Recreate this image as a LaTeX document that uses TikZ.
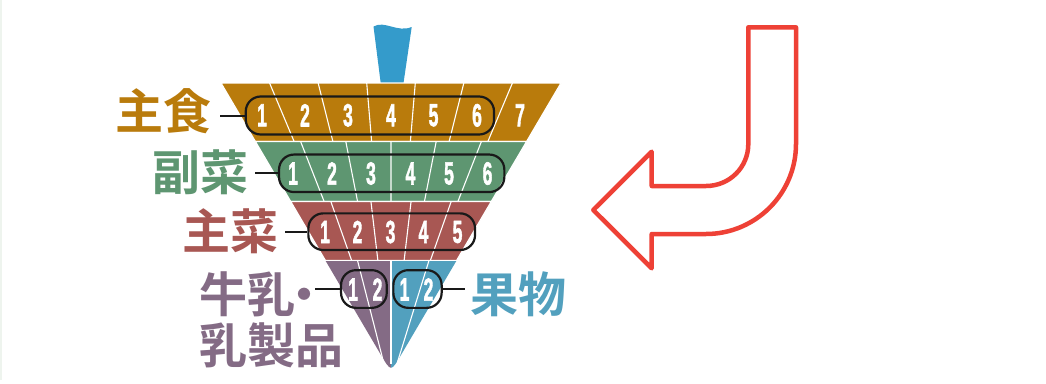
\documentclass[tikz,border=0pt]{standalone}
\usepackage{fontspec}
\usepackage{graphicx}
\newfontfamily\jpfont{Noto Sans CJK JP}[BoldFont={* Bold}]
\newfontfamily\numfont{Liberation Sans}[BoldFeatures={FakeBold=2}]
\newcommand\nm[1]{\scalebox{0.55}[1]{#1}}
\definecolor{cgold}{HTML}{B97B0C}
\definecolor{cgreen}{HTML}{5E9671}
\definecolor{cred}{HTML}{A85753}
\definecolor{cpurple}{HTML}{846B85}
\definecolor{cblue}{HTML}{52A0BE}
\definecolor{cstick}{HTML}{349BCB}
\definecolor{carrow}{HTML}{EE4136}
\definecolor{cedge}{HTML}{EEF4EE}
\tikzset{
  band/.style={draw=white, line width=1.2pt},
  divline/.style={draw=white, line width=1.1pt},
  num/.style={text=white, font=\numfont\bfseries\fontsize{32}{32}\selectfont, inner sep=0pt},
  oval/.style={draw=black!90, line width=2.2pt, rounded corners=15pt, inner sep=0pt},
  conn/.style={draw=black!90, line width=2pt},
  lbl/.style={font=\jpfont\bfseries\fontsize{48}{48}\selectfont, inner sep=0pt},
}
\begin{document}
\begin{tikzpicture}[x=1pt, y=-1pt]
\useasboundingbox (0,0) rectangle (1046,383);
\fill[white] (0,0) rectangle (1046,383);
\draw[cedge, line width=1.5pt] (1,0) -- (1,380);

% stick
\fill[cstick] (380.7,83) -- (373.5,26.5) .. controls (385,20) and (397,33) .. (411.7,27) -- (403.5,83) -- cycle;

% bands
\path[band, fill=cgold] (221,83) -- (561,83) -- (526.6,141.5) -- (255.4,141.5) -- cycle;
\path[band, fill=cgreen] (255.4,141.5) -- (526.6,141.5) -- (491.3,201.5) -- (290.7,201.5) -- cycle;
\path[band, fill=cred] (290.7,201.5) -- (491.3,201.5) -- (456.6,260.5) -- (325.4,260.5) -- cycle;
\begin{scope}
\clip (325.4,260.5) -- (381,355) .. controls (391,372) .. (401,355) -- (456.6,260.5) -- cycle;
\fill[cpurple] (320,260.5) rectangle (391,380);
\fill[cblue] (391,260.5) rectangle (462,380);
\end{scope}
\draw[white, line width=1.2pt] (325.4,260.5) -- (456.6,260.5);

% dividers
\foreach \i in {1,...,6} \draw[divline] ({221+\i*340/7},83) -- ({255.4+\i*271.2/7},141.5);
\foreach \i in {1,...,5} \draw[divline] ({255.4+\i*271.2/6},141.5) -- ({290.7+\i*200.6/6},201.5);
\foreach \i in {1,...,4} \draw[divline] ({290.7+\i*200.6/5},201.5) -- ({325.4+\i*131.2/5},260.5);
\draw[divline] (357.5,260.5) -- (383.5,362);
\draw[divline] (391,260.5) -- (391,364);
\draw[divline] (429,260.5) -- (397.5,362);

% numbers
\foreach \x/\t [count=\k] in {262/1,305/2,348/3,391/4,433.5/5,477/6,520/7}
  \node[num] (na\k) at (\x,115.3) {\nm{\t}};
\foreach \x/\t [count=\k] in {293/1,332/2,371/3,410.5/4,449/5,487.5/6}
  \node[num] (nb\k) at (\x,173.5) {\nm{\t}};
\foreach \x/\t [count=\k] in {325/1,357.5/2,390.5/3,423.5/4,457.5/5}
  \node[num] (nc\k) at (\x,232) {\nm{\t}};
\foreach \x/\t [count=\k] in {353/1,377.5/2,404.5/1,428.5/2}
  \node[num] (nd\k) at (\x,289.5) {\nm{\t}};

% ovals
\node[oval, minimum width=248.3pt, minimum height=38pt] (o1) at (369.9,115.5) {};
\node[oval, minimum width=225.3pt, minimum height=37.5pt] (o2) at (391.7,173.3) {};
\node[oval, minimum width=166.7pt, minimum height=36.7pt] (o3) at (391.7,231.7) {};
\node[oval, minimum width=45.7pt, minimum height=37.7pt] (o4) at (363.9,289) {};
\node[oval, minimum width=48.3pt, minimum height=37.7pt] (o5) at (417.5,289) {};

% connectors
\coordinate (c1) at (220,115.5);
\coordinate (c2) at (255,173.3);
\coordinate (c3) at (285,231.7);
\coordinate (c4) at (315,289);
\coordinate (c5) at (465,289);
\draw[conn] (c1) -- (o1.west);
\draw[conn] (c2) -- (o2.west);
\draw[conn] (c3) -- (o3.west);
\draw[conn] (c4) -- (o4.west);
\draw[conn] (o5.east) -- (c5);

% labels
\node[lbl, text=cgold, anchor=east] (l1) at (211.5,111.5) {主食};
\node[lbl, text=cgreen, anchor=east] (l2) at (248.5,172.5) {副菜};
\node[lbl, text=cred, anchor=east] (l3) at (279,231.2) {主菜};
\node[lbl, text=cpurple, anchor=west] (l4) at (199.5,294.2) {牛乳\kern-15pt・};
\node[lbl, text=cpurple, anchor=west] (l5) at (199.5,345.8) {乳製品};
\node[lbl, text=cblue, anchor=west] (l6) at (470.5,294.2) {果物};

% arrow
\draw[carrow, line width=4.5pt, line join=round]
  (748.3,27.3) -- (796,27.3) -- (796,144)
  .. controls (796,193.7) and (755.7,234) .. (706,234)
  -- (651.7,234) -- (651.7,268.3) -- (593.3,210) -- (651.7,151.7) -- (651.7,186)
  -- (706,186) .. controls (729.4,186) and (748.3,167.4) .. (748.3,144) -- cycle;
\end{tikzpicture}
\end{document}
